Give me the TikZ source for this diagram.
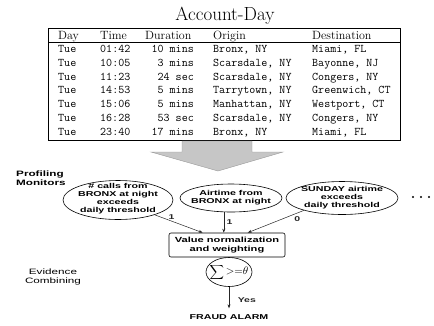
\documentclass[tikz,border=0pt]{standalone}
\usepackage{fontspec}
\usetikzlibrary{shapes.geometric,arrows.meta,calc}
% wide bold sans used for the monitor and evidence labels
\newfontfamily\lblfont[FakeStretch=1.5]{Liberation Sans}
\begin{document}
\begin{tikzpicture}[x=1pt,y=-1pt,
  lbl/.style={font=\fontsize{7.1}{8.1}\selectfont\lblfont\bfseries, align=center, inner sep=0pt},
  side/.style={font=\fontsize{7.8}{9}\selectfont\lblfont, align=center, inner sep=0pt},
  monitor/.style={ellipse, draw, line width=0.6pt, inner sep=0pt},
  hdr/.style={anchor=base west, inner sep=0pt, font=\fontsize{12}{14}\selectfont},
  cell/.style={anchor=base west, inner sep=0pt, font=\fontsize{11.7}{14}\selectfont\ttfamily},
  feed/.style={-{Stealth[length=4pt,width=3pt]}, line width=0.5pt, black!85},
  wlabel/.style={font=\fontsize{7}{8}\selectfont\lblfont\bfseries, inner sep=0.5pt}
]
\useasboundingbox (0,0) rectangle (434,325);

% ---- call table ----
\node[font=\fontsize{19}{22}\selectfont, inner sep=0pt] (title) at (225,16) {Account-Day};
\node[draw, line width=0.8pt, minimum width=352pt, minimum height=112pt,
      anchor=north west, inner sep=0pt] (tbl) at (48,28) {};
\draw[line width=0.6pt] (tbl.west |- 0,42) -- (tbl.east |- 0,42);

\node[hdr] (hday)  at (58,39.5)  {Day};
\node[hdr] (htime) at (100,39.5) {Time};
\node[hdr] (hdur)  at (145,39.5) {Duration};
\node[hdr] (horig) at (213,39.5) {Origin};
\node[hdr] (hdest) at (312,39.5) {Destination};

\foreach \d/\t/\u/\o/\e [count=\i] in {
    Tue/01:42/10 mins/{Bronx, NY}/{Miami, FL},
    Tue/10:05/3 mins/{Scarsdale, NY}/{Bayonne, NJ},
    Tue/11:23/24 sec/{Scarsdale, NY}/{Congers, NY},
    Tue/14:53/5 mins/{Tarrytown, NY}/{Greenwich, CT},
    Tue/15:06/5 mins/{Manhattan, NY}/{Westport, CT},
    Tue/16:28/53 sec/{Scarsdale, NY}/{Congers, NY},
    Tue/23:40/17 mins/{Bronx, NY}/{Miami, FL}} {
  \pgfmathsetmacro{\yy}{38.75+13.75*\i}
  \node[cell] (day\i)  at (58,\yy)  {\d};
  \node[cell] (time\i) at (100,\yy) {\t};
  \node[cell, anchor=base east] (dur\i) at (194,\yy) {\u};
  \node[cell] (orig\i) at (213,\yy) {\o};
  \node[cell] (dest\i) at (312,\yy) {\e};
}

% ---- broad arrow into the monitors ----
\filldraw[fill=gray!45, draw=gray!80, line width=0.4pt]
  (182,141) -- (252,141) -- (252,152) -- (283,152) -- (218,171)
  -- (151,152) -- (182,152) -- cycle;

% ---- profiling monitors ----
\node[side, font=\fontsize{7.8}{9}\selectfont\lblfont\bfseries, align=left, anchor=west]
  (prof) at (16,178.5) {Profiling\\Monitors};

\node[monitor, minimum width=110pt, minimum height=39pt] (e1) at (118,200) {};
\node[lbl] (e1t) at ([yshift=1pt]e1.center) {\# calls from\\BRONX at night\\exceeds\\daily threshold};
\node[monitor, minimum width=102pt, minimum height=28pt] (e2) at (231,198) {};
\node[lbl] (e2t) at (e2) {Airtime from\\BRONX at night};
\node[monitor, minimum width=112pt, minimum height=33pt] (e3) at (342,198) {};
\node[lbl] (e3t) at (e3) {SUNDAY airtime\\exceeds\\daily threshold};
\foreach \x in {413,421,429} \fill (\x,197) circle (1.1pt);

% ---- evidence combining ----
\node[draw, rounded corners=2pt, line width=0.6pt, minimum width=116pt,
      minimum height=24pt, lbl, font=\fontsize{7.4}{9.3}\selectfont\lblfont\bfseries]
  (norm) at (227,245) {Value normalization\\and weighting};

\draw[feed] (e1.-22) -- ([xshift=34pt]norm.north west)
  node[pos=0.35, above=0.5pt, wlabel] {1};
\draw[feed] (e2.-117) -- (e2.-117 |- norm.north)
  node[midway, right=2pt, wlabel] {1};
\draw[feed] (e3.198) -- ([xshift=79pt]norm.north west)
  node[pos=0.2, below right=1pt, wlabel] {0};

\node[side] (evid) at (53,277) {Evidence\\Combining};

\node[monitor, minimum width=46pt, minimum height=29pt] (sum) at (229,272) {};
\node[inner sep=0pt, font=\fontsize{11}{13}\selectfont] (sumt) at (sum)
  {$\displaystyle\sum{>}{=}\theta$};

\node[lbl] (alarm) at (229,317) {FRAUD ALARM};
\draw[feed] (sum.south) -- (alarm.north) [shorten >=6pt]
  node[midway, right=8pt, wlabel] {Yes};
\end{tikzpicture}
\end{document}
